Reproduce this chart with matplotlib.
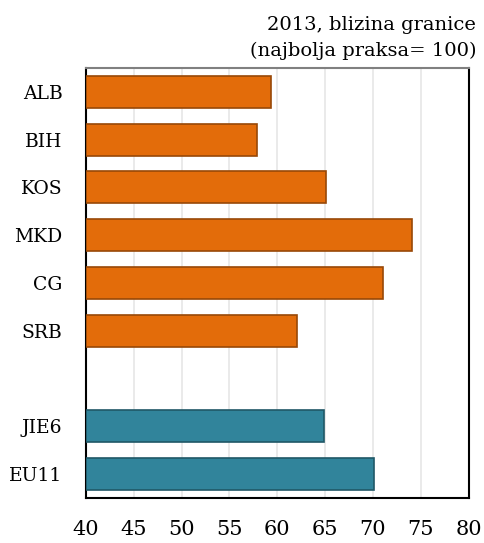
import matplotlib
matplotlib.use("Agg")
import matplotlib.pyplot as plt
import numpy as np

# Border-proximity index, 2013 (best practice = 100)
categories = ["ALB", "BIH", "KOS", "MKD", "CG", "SRB", "", "JIE6", "EU11"]
values = [59.3, 57.9, 65.1, 74.1, 71.1, 62.1, np.nan, 64.9, 70.1]
groups = ["c", "c", "c", "c", "c", "c", None, "r", "r"]
x_ticks = [40, 45, 50, 55, 60, 65, 70, 75, 80]
title_lines = ["2013, blizina granice", "(najbolja praksa= 100)"]

face = {"c": "#E36C0A", "r": "#31849B"}
edge = {"c": "#984807", "r": "#205867"}

plt.rcParams["font.family"] = ["DejaVu Serif"]

fig = plt.figure(figsize=(4.84, 5.43), dpi=100)
ax = fig.add_axes([86 / 484, 1 - 498 / 543, (468.5 - 86) / 484, (498 - 68) / 543])

pos = np.arange(len(categories))
for i, (v, g) in enumerate(zip(values, groups)):
    if g is None or np.isnan(v):
        continue
    ax.barh(pos[i], v - x_ticks[0], left=x_ticks[0], height=0.67,
            color=face[g], edgecolor=edge[g], linewidth=1.2, zorder=3)

ax.set_xlim(x_ticks[0], x_ticks[-1])
ax.set_ylim(len(categories) - 0.5, -0.5)
ax.set_xticks(x_ticks)
ax.set_xticklabels([str(t) for t in x_ticks], fontsize=15)
ax.set_yticks(pos)
ax.set_yticklabels(categories, fontsize=13.5)
ax.tick_params(axis="x", length=0, pad=16)
ax.tick_params(axis="y", length=0, pad=17)
ax.grid(axis="x", color="#E6E6E6", linewidth=1.2, zorder=0)

for side in ["left", "right", "bottom"]:
    ax.spines[side].set_color("black")
    ax.spines[side].set_linewidth(1.5)
ax.spines["top"].set_color("#808080")
ax.spines["top"].set_linewidth(1.5)

fig.text(476 / 484, 1 - 25 / 543, title_lines[0], ha="right", va="center", fontsize=14)
fig.text(476 / 484, 1 - 51 / 543, title_lines[1], ha="right", va="center", fontsize=14)

fig.savefig("out.png", dpi=100)
